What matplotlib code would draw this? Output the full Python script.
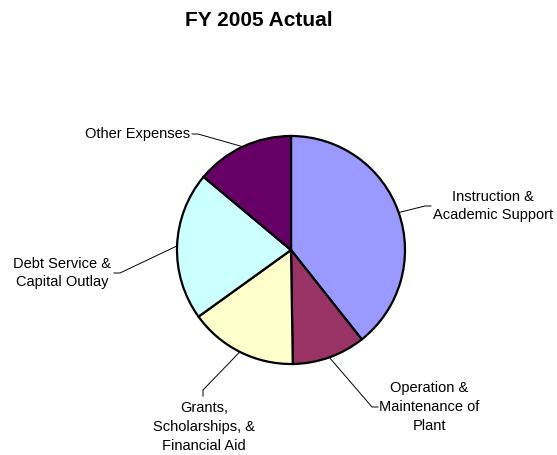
import numpy as np
import matplotlib
matplotlib.use("Agg")
import matplotlib.pyplot as plt

plt.rcParams['font.family'] = ['Liberation Sans', 'DejaVu Sans']

categories = ['Instruction &\nAcademic Support', 'Operation &\nMaintenance of\nPlant',
              'Grants,\nScholarships, &\nFinancial Aid', 'Debt Service &\nCapital Outlay',
              'Other Expenses']
shares = [39.3, 10.4, 15.3, 21.0, 13.9]
colors = ['#9999FF', '#993366', '#FFFFCC', '#CCFFFF', '#660066']

W, H = 557, 455

def py(y):
    return H - y

fig = plt.figure(figsize=(W / 100, H / 100), dpi=100)
ax = fig.add_axes([0, 0, 1, 1])

cx, cy, r = 291, py(250), 114
wedges, _ = ax.pie(shares, colors=colors, startangle=90, counterclock=False,
                   center=(cx, cy), radius=r,
                   wedgeprops=dict(edgecolor='black', linewidth=1.6))
ax.set_xlim(0, W)
ax.set_ylim(0, H)
ax.set_aspect('equal')
ax.axis('off')

# label text position, alignment, elbow and end of leader line (pixels)
label_layout = [
    dict(xy=(493, 206), ha='center', path=[(425, 206), (431, 206)]),
    dict(xy=(429, 407), ha='center', path=[(372, 407), (378, 407)]),
    dict(xy=(204, 427), ha='center', path=[(203, 390), (203, 396)]),
    dict(xy=(62, 273), ha='center', path=[(120, 273), (114, 273)]),
    dict(xy=(190, 134), ha='right', path=[(198, 134), (192, 134)]),
]

for w, lab, lay in zip(wedges, categories, label_layout):
    mid = np.deg2rad((w.theta1 + w.theta2) / 2)
    x0 = cx + r * np.cos(mid)
    y0 = cy + r * np.sin(mid)
    xs = [x0] + [p[0] for p in lay['path']]
    ys = [y0] + [py(p[1]) for p in lay['path']]
    ax.plot(xs, ys, color='black', lw=0.7)
    ax.text(lay['xy'][0], py(lay['xy'][1]), lab, ha=lay['ha'], va='center',
            multialignment='center', fontsize=10.5, linespacing=1.42)

ax.text(259, py(20), 'FY 2005 Actual', ha='center', va='center',
        fontsize=15, fontweight='bold')

fig.savefig('out.png', dpi=100)
